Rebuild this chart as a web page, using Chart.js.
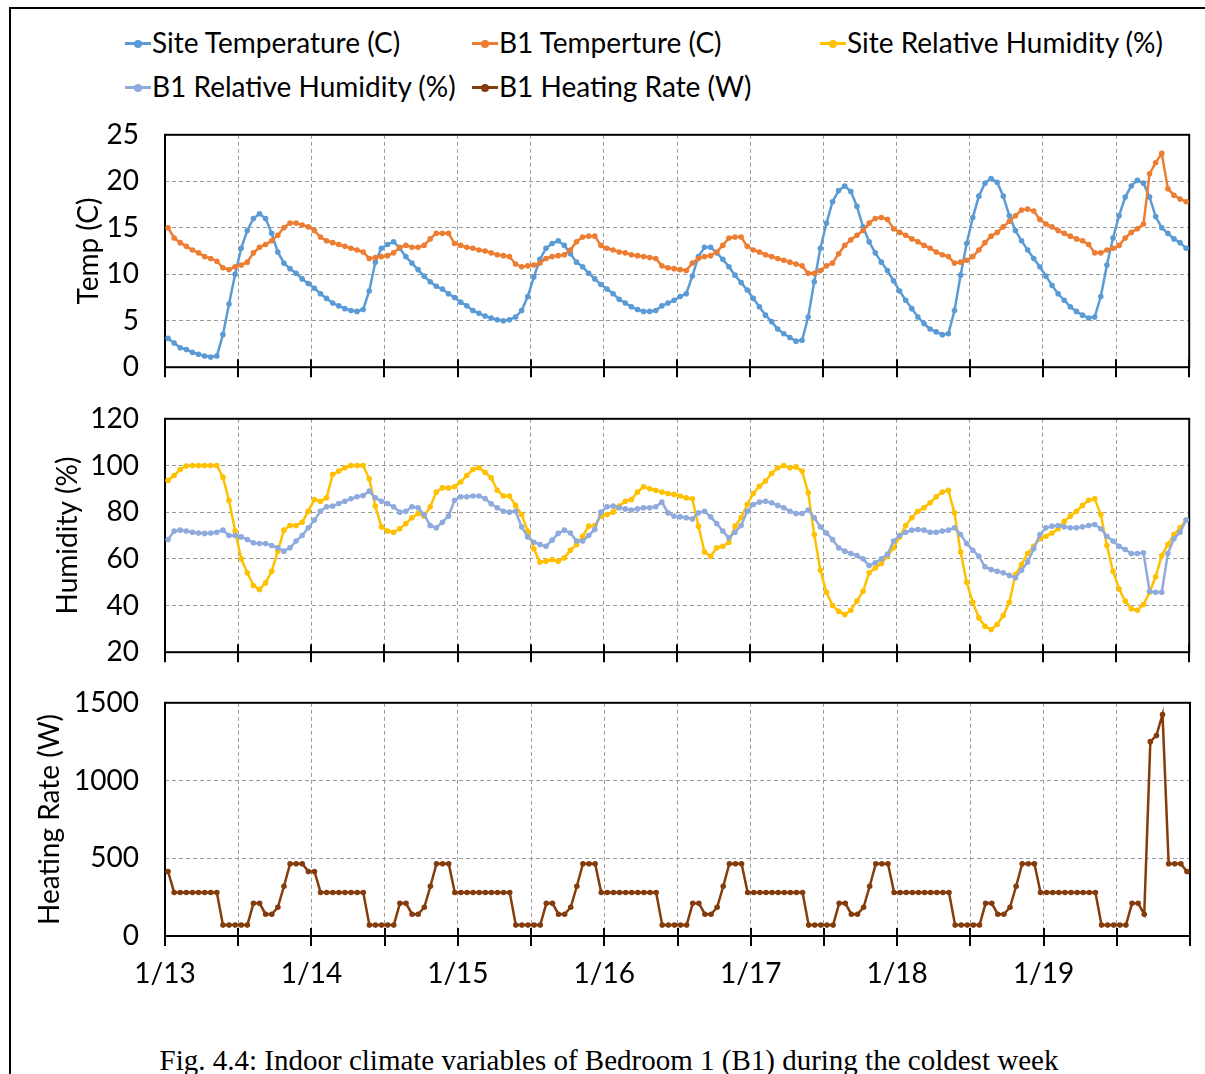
<!DOCTYPE html>
<html>
<head>
<meta charset="utf-8">
<script src="https://cdn.jsdelivr.net/npm/chart.js@4.4.1/dist/chart.umd.min.js"></script>
<style>
  html, body { margin: 0; padding: 0; background: #fff; }
  #page { position: relative; width: 1205px; height: 1074px; overflow: hidden; background: #fff; font-family: Lato, sans-serif; }
  #frame { position: absolute; left: 9px; top: 7px; width: 1220px; height: 1100px; border-left: 2px solid #000; border-top: 2px solid #000; }
  canvas { position: absolute; left: 0; }
  .lg { position: absolute; font-size: 28px; line-height: 34px; color: #000; white-space: nowrap; }
  .mk { position: absolute; width: 26px; height: 3px; }
  .mk::after { content: ""; position: absolute; left: 9px; top: -2.5px; width: 8px; height: 8px; border-radius: 50%; background: inherit; }
  #caption { position: absolute; left: 0; width: 1218px; top: 1044px; text-align: center; font: 29px "Liberation Serif", "Times New Roman", serif; color: #000; white-space: nowrap; }
</style>
</head>
<body>
<div id="page">
  <div id="frame"></div>

  <div class="mk" style="left:125px;top:42px;background:#5B9BD5"></div>
  <div class="lg" style="left:152px;top:25px">Site Temperature (C)</div>
  <div class="mk" style="left:472px;top:42px;background:#ED7D31"></div>
  <div class="lg" style="left:499px;top:25px">B1 Temperture (C)</div>
  <div class="mk" style="left:820px;top:42px;background:#FFC000"></div>
  <div class="lg" style="left:847px;top:25px">Site Relative Humidity (%)</div>
  <div class="mk" style="left:125px;top:86px;background:#8FAADC"></div>
  <div class="lg" style="left:152px;top:69px">B1 Relative Humidity (%)</div>
  <div class="mk" style="left:472px;top:86px;background:#843C0C"></div>
  <div class="lg" style="left:499px;top:69px">B1 Heating Rate (W)</div>

  <canvas id="tempChart" width="1205" height="280" style="top:110px"></canvas>
  <canvas id="humChart" width="1205" height="281" style="top:394px"></canvas>
  <canvas id="heatChart" width="1205" height="329" style="top:678px"></canvas>

  <div id="caption">Fig. 4.4: Indoor climate variables of Bedroom 1 (B1) during the coldest week</div>
</div>

<script>
// hourly readings, 1/13 00:30 .. 1/19 23:30
const dayLabels = ['1/13', '1/14', '1/15', '1/16', '1/17', '1/18', '1/19'];

const siteTemp = [
  3.1, 2.6, 2.1, 1.9, 1.6, 1.4, 1.2, 1.1, 1.2, 3.5, 6.8, 10.0,
  12.8, 14.7, 16.0, 16.5, 16.0, 14.4, 12.4, 11.2, 10.6, 10.1, 9.5, 9.0,
  8.5, 7.9, 7.4, 6.9, 6.6, 6.3, 6.1, 6.0, 6.2, 8.2, 11.3, 12.8,
  13.2, 13.5, 12.8, 11.9, 11.2, 10.5, 9.8, 9.2, 8.7, 8.4, 7.9, 7.5,
  7.0, 6.6, 6.1, 5.8, 5.5, 5.3, 5.1, 5.0, 5.1, 5.4, 6.1, 7.6,
  9.7, 11.6, 12.8, 13.3, 13.6, 13.1, 12.2, 11.3, 10.8, 10.1, 9.5, 8.9,
  8.4, 7.9, 7.3, 6.9, 6.5, 6.2, 6.0, 6.0, 6.1, 6.6, 6.9, 7.2,
  7.6, 7.9, 9.8, 11.9, 12.9, 12.9, 12.3, 11.6, 10.8, 9.9, 9.1, 8.3,
  7.4, 6.5, 5.6, 4.9, 4.1, 3.6, 3.2, 2.8, 2.9, 5.4, 9.2, 12.8,
  15.5, 17.8, 19.0, 19.5, 18.9, 17.3, 15.1, 13.5, 12.3, 11.3, 10.4, 9.3,
  8.2, 7.2, 6.3, 5.4, 4.7, 4.1, 3.8, 3.5, 3.6, 6.1, 9.9, 13.3,
  16.1, 18.4, 19.8, 20.3, 19.9, 18.4, 16.3, 14.7, 13.6, 12.6, 11.7, 10.8,
  9.8, 8.8, 7.9, 7.2, 6.5, 6.0, 5.6, 5.3, 5.4, 7.6, 11.0, 13.9,
  16.3, 18.3, 19.5, 20.1, 19.8, 18.3, 16.2, 15.0, 14.4, 13.8, 13.4, 12.8
];

const b1Temp = [
  15.0, 13.9, 13.4, 13.0, 12.6, 12.3, 11.9, 11.7, 11.4, 10.7, 10.5, 10.8,
  11.0, 11.3, 12.3, 12.9, 13.2, 13.6, 14.2, 15.0, 15.5, 15.5, 15.3, 15.1,
  14.7, 14.0, 13.6, 13.4, 13.2, 13.0, 12.8, 12.6, 12.4, 11.7, 11.8, 11.9,
  12.0, 12.3, 12.9, 13.1, 12.9, 12.9, 13.1, 13.8, 14.4, 14.4, 14.4, 13.3,
  13.1, 12.9, 12.8, 12.6, 12.5, 12.3, 12.1, 12.0, 11.9, 11.1, 10.8, 10.9,
  11.0, 11.2, 11.7, 11.9, 12.0, 12.1, 12.6, 13.5, 14.0, 14.1, 14.1, 13.1,
  12.8, 12.6, 12.4, 12.3, 12.1, 12.0, 11.9, 11.8, 11.7, 10.9, 10.7, 10.6,
  10.5, 10.4, 11.2, 11.7, 11.9, 12.0, 12.4, 13.1, 13.9, 14.0, 14.0, 13.0,
  12.6, 12.4, 12.1, 11.9, 11.7, 11.5, 11.3, 11.1, 10.9, 10.1, 10.1, 10.4,
  10.9, 11.2, 12.2, 13.1, 13.7, 14.2, 14.7, 15.5, 16.0, 16.1, 15.9, 14.9,
  14.5, 14.2, 13.8, 13.5, 13.1, 12.8, 12.4, 12.1, 11.9, 11.2, 11.3, 11.5,
  11.9, 12.6, 13.4, 14.1, 14.5, 15.1, 15.7, 16.3, 16.9, 17.0, 16.8, 15.9,
  15.4, 15.1, 14.7, 14.4, 14.1, 13.8, 13.6, 13.2, 12.3, 12.3, 12.6, 12.8,
  13.1, 13.9, 14.5, 14.9, 15.4, 20.8, 22.0, 23.0, 19.2, 18.5, 18.1, 17.8
];

const siteRH = [
  93.6, 95.7, 98.3, 99.8, 100, 100, 100, 100, 100, 95.0, 85.0, 72.0,
  60.0, 54.0, 48.6, 46.9, 49.7, 54.7, 63.3, 72.3, 74.3, 74.3, 75.7, 80.4,
  85.4, 84.7, 86.1, 96.1, 97.6, 99.0, 100, 100, 100, 94.3, 82.6, 73.7,
  71.9, 71.4, 72.9, 75.1, 77.6, 79.4, 78.3, 82.3, 88.6, 90.4, 90.4, 90.9,
  92.9, 95.7, 98.3, 99.0, 97.1, 94.7, 89.4, 86.9, 86.9, 82.9, 79.0, 71.9,
  64.3, 58.6, 59.0, 59.7, 59.0, 60.4, 63.7, 66.1, 69.7, 74.0, 74.3, 78.3,
  79.0, 80.0, 82.6, 84.7, 85.4, 88.6, 90.9, 90.0, 89.4, 88.6, 88.0, 87.6,
  86.9, 86.1, 85.7, 74.0, 62.9, 61.1, 64.7, 65.4, 67.1, 74.0, 77.6, 83.3,
  88.0, 91.1, 93.3, 96.6, 99.0, 100, 99.0, 99.4, 97.6, 88.3, 70.4, 55.1,
  45.7, 40.0, 37.5, 36.1, 38.0, 41.9, 46.1, 54.0, 56.1, 58.0, 61.1, 64.7,
  69.4, 74.3, 77.6, 80.4, 81.9, 84.0, 86.6, 88.6, 89.4, 79.7, 62.9, 50.0,
  41.4, 34.7, 31.1, 29.7, 31.9, 35.7, 41.4, 53.3, 57.6, 62.3, 65.4, 68.6,
  69.7, 71.1, 72.9, 76.1, 78.3, 80.4, 82.9, 85.1, 85.7, 79.0, 65.7, 54.7,
  47.1, 41.9, 38.6, 38.0, 40.4, 45.7, 52.3, 61.4, 66.1, 70.4, 73.3, 76.6
];

const b1RH = [
  68.3, 71.9, 72.3, 71.9, 71.4, 71.1, 70.9, 71.1, 71.4, 72.3, 70.0, 70.0,
  69.4, 68.3, 66.9, 66.6, 66.6, 65.7, 64.7, 63.3, 64.7, 67.6, 70.0, 73.3,
  76.6, 80.4, 82.3, 82.6, 83.7, 84.7, 85.7, 86.6, 87.1, 89.0, 86.1, 84.7,
  83.7, 82.3, 80.0, 80.4, 82.3, 81.9, 79.0, 74.3, 73.3, 75.7, 78.3, 85.1,
  86.6, 86.6, 86.9, 86.9, 85.8, 83.6, 81.9, 80.4, 80.0, 80.4, 73.7, 69.4,
  67.1, 66.1, 65.4, 68.0, 70.9, 72.3, 71.1, 67.6, 67.6, 70.0, 72.6, 80.0,
  82.3, 82.6, 81.9, 81.4, 80.9, 81.4, 81.9, 81.9, 82.3, 84.3, 79.7, 78.3,
  78.0, 77.6, 77.1, 79.7, 80.4, 78.0, 75.1, 71.9, 69.0, 71.4, 74.3, 80.4,
  83.3, 84.3, 84.7, 84.0, 82.9, 81.9, 80.4, 79.4, 79.4, 80.9, 77.6, 73.7,
  71.1, 68.3, 64.7, 63.3, 62.3, 61.4, 60.0, 57.1, 58.3, 60.0, 61.9, 67.6,
  70.0, 71.4, 72.3, 72.6, 72.3, 71.4, 71.4, 71.9, 72.3, 73.3, 70.4, 66.6,
  63.7, 61.1, 56.6, 55.4, 54.7, 54.0, 52.9, 51.9, 55.1, 58.6, 64.3, 70.4,
  73.3, 74.0, 74.3, 73.7, 73.3, 73.3, 73.7, 74.3, 74.7, 72.9, 69.7, 67.6,
  65.4, 64.0, 62.3, 62.3, 62.6, 46.1, 45.7, 45.7, 62.3, 68.6, 71.4, 76.6
];

// one row per day
const b1Heat = [
  415, 280, 280, 280, 280, 280, 280, 280, 280, 70, 70, 70, 70, 70, 210, 210, 140, 140, 185, 320, 465, 465, 465, 415,
  415, 280, 280, 280, 280, 280, 280, 280, 280, 70, 70, 70, 70, 70, 210, 210, 140, 140, 185, 320, 465, 465, 465, 280,
  280, 280, 280, 280, 280, 280, 280, 280, 280, 70, 70, 70, 70, 70, 210, 210, 140, 140, 185, 320, 465, 465, 465, 280,
  280, 280, 280, 280, 280, 280, 280, 280, 280, 70, 70, 70, 70, 70, 210, 210, 140, 140, 185, 320, 465, 465, 465, 280,
  280, 280, 280, 280, 280, 280, 280, 280, 280, 70, 70, 70, 70, 70, 210, 210, 140, 140, 185, 320, 465, 465, 465, 280,
  280, 280, 280, 280, 280, 280, 280, 280, 280, 70, 70, 70, 70, 70, 210, 210, 140, 140, 185, 320, 465, 465, 465, 280,
  280, 280, 280, 280, 280, 280, 280, 280, 280, 70, 70, 70, 70, 70, 210, 210, 140, 1250, 1290, 1425, 465, 465, 465, 415
];

const hours = siteTemp.map((_, i) => i + 0.5);
const pts = arr => arr.map((v, i) => ({ x: hours[i], y: v }));

Chart.defaults.font.family = 'Lato, sans-serif';
Chart.defaults.font.size = 28;
Chart.defaults.color = '#000';

// plot frame + cross tick marks on the time axis
const plotBox = {
  id: 'plotBox',
  beforeDatasetsDraw(chart) {
    const { ctx, chartArea: a, scales: { x } } = chart;
    ctx.save();
    ctx.strokeStyle = '#000';
    ctx.lineWidth = 2;
    ctx.strokeRect(a.left, a.top, a.right - a.left, a.bottom - a.top);
    ctx.beginPath();
    x.ticks.forEach(t => {
      const px = Math.round(x.getPixelForValue(t.value));
      ctx.moveTo(px, a.bottom - 8);
      ctx.lineTo(px, a.bottom + 10);
    });
    ctx.stroke();
    ctx.restore();
  }
};

function series(label, data, color, order) {
  return {
    label, data: pts(data), order,
    borderColor: color, backgroundColor: color,
    pointBackgroundColor: color, pointBorderColor: color
  };
}

function config(datasets, y, padLeft, xHeight, showX) {
  return {
    type: 'line',
    data: { datasets },
    options: {
      responsive: false,
      maintainAspectRatio: false,
      animation: false,
      clip: false,
      layout: { padding: { left: padLeft, top: 0, right: 0, bottom: 0 } },
      plugins: { legend: { display: false }, tooltip: { enabled: false } },
      elements: {
        line: { borderWidth: 2.5, tension: 0 },
        point: { radius: 2.8, borderWidth: 0, hoverRadius: 2.8 }
      },
      scales: {
        x: {
          type: 'linear', min: 0, max: 168,
          afterFit: s => { s.height = xHeight; },
          ticks: {
            display: showX, stepSize: 12, autoSkip: false, maxRotation: 0, padding: 21,
            callback: v => (v % 24 === 0 && v < 168) ? dayLabels[v / 24] : ''
          },
          grid: { color: '#9a9a9a', lineWidth: 1, drawTicks: false },
          border: { display: false, dash: [4, 3] }
        },
        y: {
          min: y.min, max: y.max,
          afterFit: s => { s.width = 165 - padLeft; },
          ticks: { stepSize: y.step, padding: 26, callback: v => String(v) },
          grid: { color: '#9a9a9a', lineWidth: 1, drawTicks: false },
          border: { display: false, dash: [4, 3] },
          title: { display: true, text: y.title, padding: 0 }
        }
      }
    },
    plugins: [plotBox]
  };
}

// draw once, measure the margins Chart.js leaves, then size the canvas so the plot area lands on target
function panel(id, makeDatasets, y, padLeft, xHeight, showX, area) {
  const canvas = document.getElementById(id);
  let chart = new Chart(canvas, config(makeDatasets(), y, padLeft, xHeight, showX));
  const a = chart.chartArea;
  const W = chart.width, H = chart.height;
  const m = { l: a.left, t: a.top, r: W - a.right, b: H - a.bottom };
  chart.destroy();
  canvas.width = m.l + (area.right - area.left) + m.r;
  canvas.height = m.t + (area.bottom - area.top) + m.b;
  canvas.style.left = (area.left - m.l) + 'px';
  canvas.style.top = (area.top - m.t) + 'px';
  canvas.style.width = canvas.width + 'px';
  canvas.style.height = canvas.height + 'px';
  chart = new Chart(canvas, config(makeDatasets(), y, padLeft, xHeight, showX));
  return chart;
}

panel('tempChart', () => [
  series('Site Temperature (C)', siteTemp, '#5B9BD5', 1),
  series('B1 Temperture (C)', b1Temp, '#ED7D31', 0)
], { min: 0, max: 25, step: 5, title: 'Temp (C)' }, 72, 22, false,
{ left: 165, right: 1190, top: 135, bottom: 368 });

panel('humChart', () => [
  series('Site Relative Humidity (%)', siteRH, '#FFC000', 1),
  series('B1 Relative Humidity (%)', b1RH, '#8FAADC', 0)
], { min: 20, max: 120, step: 20, title: 'Humidity (%)' }, 51, 22, false,
{ left: 165, right: 1190, top: 419, bottom: 653 });

panel('heatChart', () => [
  series('B1 Heating Rate (W)', b1Heat, '#843C0C', 0)
], { min: 0, max: 1500, step: 500, title: 'Heating Rate (W)' }, 33, 70, true,
{ left: 165, right: 1190, top: 703, bottom: 937 });
</script>
</body>
</html>
